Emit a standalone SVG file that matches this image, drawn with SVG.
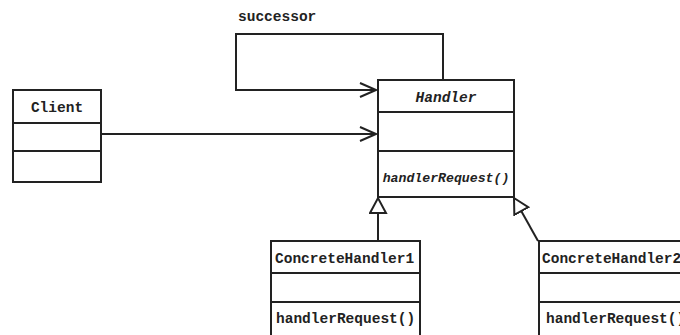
<svg xmlns="http://www.w3.org/2000/svg" width="680" height="335" viewBox="0 0 680 335">
<defs>
<style>
.box{fill:#fff;stroke:#222;stroke-width:2}
.div{stroke:#222;stroke-width:2}
.ln{fill:none;stroke:#222;stroke-width:2}
.t{font-family:"Liberation Mono","Courier New",monospace;font-weight:bold;font-size:14.5px;fill:#222}
.c{text-anchor:middle}
.i{font-style:italic}
</style>
<marker id="open" markerWidth="20" markerHeight="20" refX="18" refY="8" orient="auto" markerUnits="userSpaceOnUse">
<path d="M2,1 L18,8 L2,15" fill="none" stroke="#222" stroke-width="2"/>
</marker>
<marker id="tri" markerWidth="24" markerHeight="24" refX="16" refY="9" orient="auto" markerUnits="userSpaceOnUse">
<path d="M1,1 L16,9 L1,17 Z" fill="#fff" stroke="#222" stroke-width="2"/>
</marker>
</defs>
<rect width="680" height="335" fill="#fff"/>
<g id="connectors">
<path class="ln" d="M443,80 V34 H236 V90 H376" marker-end="url(#open)"/>
<path class="ln" d="M101,134 H376" marker-end="url(#open)"/>
<path class="ln" d="M378,241 V198" marker-end="url(#tri)"/>
<path class="ln" d="M538,241 L514,198" marker-end="url(#tri)"/>
<text class="t" x="238" y="21">successor</text>
</g>
<g id="client">
<rect class="box" x="13" y="90" width="88" height="92"/>
<line class="div" x1="13" y1="123" x2="101" y2="123"/>
<line class="div" x1="13" y1="151" x2="101" y2="151"/>
<text class="t c" x="57" y="112">Client</text>
</g>
<g id="handler">
<rect class="box" x="378" y="80" width="136" height="117"/>
<line class="div" x1="378" y1="112" x2="514" y2="112"/>
<line class="div" x1="378" y1="151" x2="514" y2="151"/>
<text class="t c i" x="446" y="102">Handler</text>
<text class="t c i" x="446" y="182" style="font-size:13.2px">handlerRequest()</text>
</g>
<g id="concrete1">
<rect class="box" x="271" y="241" width="149" height="100"/>
<line class="div" x1="271" y1="273" x2="420" y2="273"/>
<line class="div" x1="271" y1="302" x2="420" y2="302"/>
<text class="t" x="275" y="263">ConcreteHandler1</text>
<text class="t" x="276" y="323">handlerRequest()</text>
</g>
<g id="concrete2">
<rect class="box" x="539" y="241" width="160" height="100"/>
<line class="div" x1="539" y1="273" x2="699" y2="273"/>
<line class="div" x1="539" y1="302" x2="699" y2="302"/>
<text class="t" x="542" y="263">ConcreteHandler2</text>
<text class="t" x="546" y="323">handlerRequest()</text>
</g>
</svg>
